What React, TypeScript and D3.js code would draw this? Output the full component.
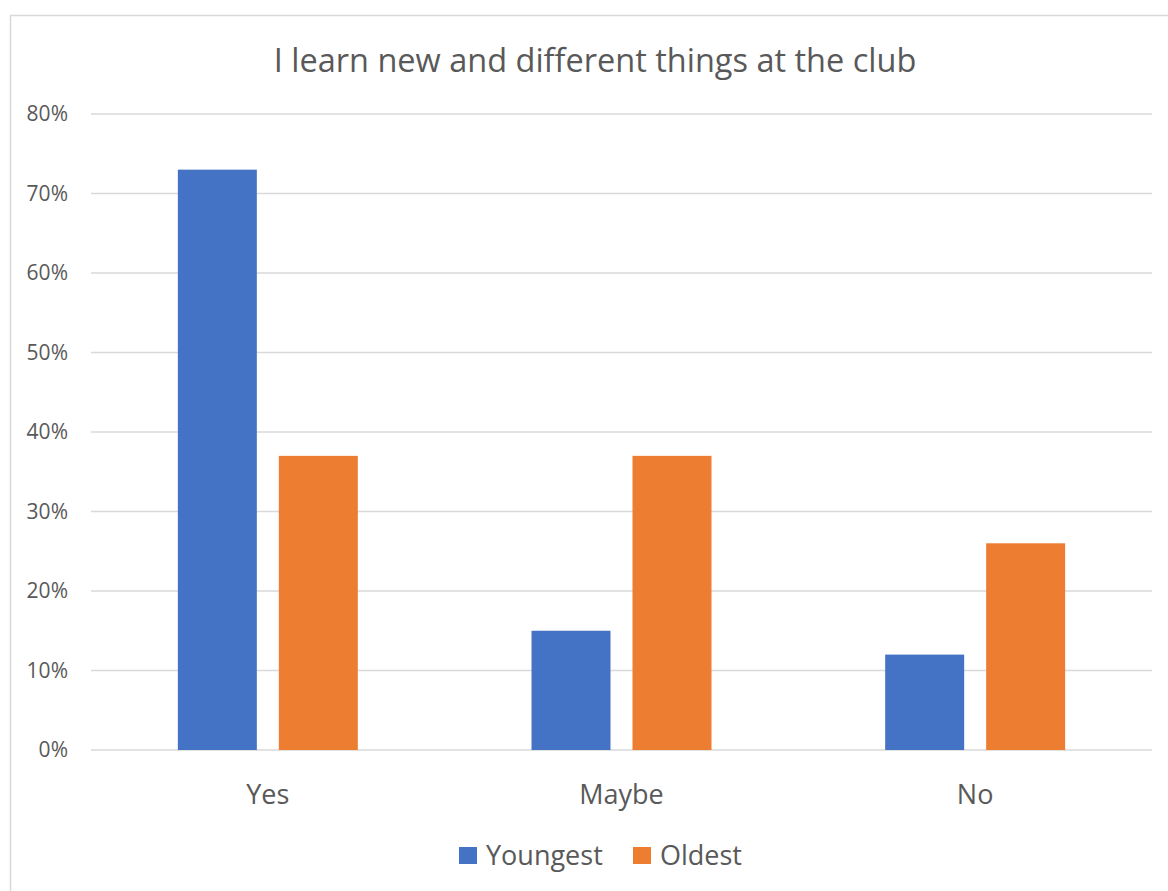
import React from "react";
import * as d3 from "d3";

const categories = ["Yes", "Maybe", "No"];
const seriesNames = ["Youngest", "Oldest"];
const youngest = [73, 15, 12];
const oldest = [37, 37, 26];
const yTicks = [0, 10, 20, 30, 40, 50, 60, 70, 80];
const colors = ["#4472C4", "#ED7D31"];
const title = "I learn new and different things at the club";

const W = 1168;
const H = 891;
const font = "'Open Sans', 'Noto Sans', sans-serif";
const textColor = "#595959";

export default function App() {
  const left = 91, right = 1152, top = 114, bottom = 750;
  const y = d3.scaleLinear().domain([0, 80]).range([bottom, top]);
  const x0 = d3.scaleBand().domain(categories).range([left, right]);
  const x1 = d3
    .scaleBand()
    .domain(seriesNames)
    .range([0, x0.bandwidth()])
    .paddingInner(22 / 101)
    .paddingOuter(0.86);
  const values = [youngest, oldest];

  return (
    <svg
      width={W}
      height={H}
      style={{ position: "absolute", left: 0, top: 0, background: "#fff" }}
    >
      <rect x={10.5} y={15.5} width={1300} height={1000} fill="#fff" stroke="#d9d9d9" strokeWidth={1.5} />
      <text x={595} y={61} dy="0.35em" textAnchor="middle" fontFamily={font} fontSize={32.5} fill={textColor}>
        {title}
      </text>
      {yTicks.map((t) => (
        <g key={t}>
          <line x1={left} x2={right} y1={y(t)} y2={y(t)} stroke="#d9d9d9" strokeWidth={1.5} />
          <text x={68} y={y(t)} dy="0.35em" textAnchor="end" fontFamily={font} fontSize={21} fill={textColor}>
            {t}%
          </text>
        </g>
      ))}
      {categories.map((c, ci) => (
        <g key={c} transform={`translate(${x0(c)},0)`}>
          {seriesNames.map((s, si) => (
            <rect
              key={s}
              x={x1(s)}
              y={y(values[si][ci])}
              width={x1.bandwidth()}
              height={bottom - y(values[si][ci])}
              fill={colors[si]}
            />
          ))}
          <text
            x={x0.bandwidth() / 2}
            y={795}
            dy="0.35em"
            textAnchor="middle"
            fontFamily={font}
            fontSize={27}
            fill={textColor}
          >
            {c}
          </text>
        </g>
      ))}
      {seriesNames.map((s, si) => {
        const lx = [459, 633][si];
        return (
          <g key={s}>
            <rect x={lx} y={847} width={18} height={17} fill={colors[si]} />
            <text x={lx + 27} y={856} dy="0.35em" fontFamily={font} fontSize={27} fill={textColor}>
              {s}
            </text>
          </g>
        );
      })}
    </svg>
  );
}
